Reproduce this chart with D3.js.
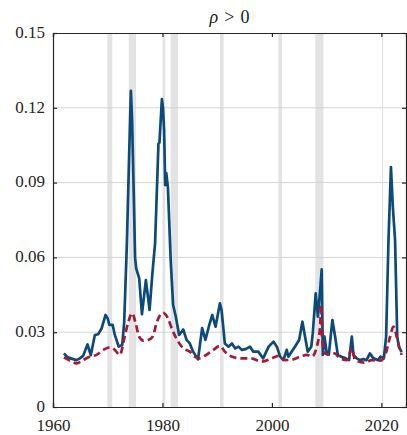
<!DOCTYPE html>
<html>
<head>
<meta charset="utf-8">
<script src="https://cdn.jsdelivr.net/npm/d3@7/dist/d3.min.js"></script>
<style>
  html, body { margin: 0; padding: 0; background: #fff; }
  svg { display: block; }
  .tick text { font-family: "Liberation Serif", "Times New Roman", serif; font-size: 17px; fill: #262626; }
</style>
</head>
<body>
<svg id="chart" width="407" height="435"></svg>
<script>
// Solid series: estimate for rho > 0
const solidDates = [1962.0, 1962.5, 1963.0, 1963.7, 1964.3, 1964.9, 1965.5, 1966.3, 1966.9, 1967.65,
  1968.25, 1968.9, 1969.6, 1970.0, 1970.3, 1970.9, 1971.3, 1972.0, 1972.65, 1973.0,
  1973.5, 1973.9, 1974.23, 1974.45, 1974.7, 1975.0, 1975.2, 1975.75, 1976.25, 1976.97,
  1977.65, 1978.1, 1978.65, 1979.27, 1979.45, 1979.9, 1980.1, 1980.3, 1980.5, 1980.7,
  1981.0, 1981.5, 1981.95, 1982.44, 1983.05, 1983.8, 1984.4, 1985.0, 1985.6, 1986.5,
  1987.25, 1987.85, 1988.5, 1989.1, 1989.7, 1990.5, 1990.8, 1991.4, 1992.06, 1992.7,
  1993.3, 1993.9, 1994.5, 1995.2, 1996.0, 1996.6, 1997.5, 1998.4, 1999.4, 2000.3,
  2000.9, 2001.5, 2002.1, 2002.7, 2003.0, 2003.6, 2004.2, 2004.97, 2005.57, 2006.06,
  2006.55, 2007.2, 2007.47, 2008.0, 2008.4, 2008.7, 2009.1, 2009.3, 2009.6, 2010.03,
  2010.4, 2011.05, 2011.55, 2012.04, 2012.6, 2013.5, 2014.1, 2014.6, 2014.9, 2015.5,
  2016.1, 2016.7, 2017.3, 2017.9, 2018.55, 2019.4, 2019.85, 2020.45, 2020.87, 2021.3,
  2021.75, 2022.1, 2022.5, 2022.9, 2023.2, 2023.7];
const solidValues = [0.0215, 0.0203, 0.0197, 0.0192, 0.0188, 0.0195, 0.0205, 0.0251, 0.0208, 0.0289,
  0.0292, 0.0316, 0.0369, 0.0355, 0.0329, 0.0329, 0.0289, 0.0242, 0.0249, 0.0337,
  0.0656, 0.1000, 0.1268, 0.1150, 0.0910, 0.0600, 0.0556, 0.0516, 0.0372, 0.0509,
  0.0389, 0.0520, 0.0656, 0.1057, 0.1060, 0.1235, 0.1200, 0.1110, 0.0890, 0.0938,
  0.0880, 0.0589, 0.0409, 0.0362, 0.0289, 0.0311, 0.0269, 0.0255, 0.0222, 0.0191,
  0.0316, 0.0269, 0.0325, 0.0369, 0.0322, 0.0416, 0.0389, 0.0255, 0.0242, 0.0255,
  0.0235, 0.0242, 0.0229, 0.0232, 0.0242, 0.0222, 0.0222, 0.0195, 0.0242, 0.0262,
  0.0242, 0.0202, 0.0188, 0.0229, 0.0202, 0.0222, 0.0242, 0.0269, 0.0342, 0.0282,
  0.0222, 0.0242, 0.0296, 0.0456, 0.0362, 0.0440, 0.0552, 0.0209, 0.0282, 0.0215,
  0.0210, 0.0349, 0.0282, 0.0209, 0.0202, 0.0195, 0.0188, 0.0282, 0.0209, 0.0195,
  0.0188, 0.0192, 0.0188, 0.0215, 0.0195, 0.0188, 0.0202, 0.0195, 0.0282, 0.0670,
  0.0962, 0.0800, 0.0670, 0.0282, 0.0242, 0.0220];

// Dashed series: smoother benchmark
const dashedDates = [1962.0, 1963.1, 1964.3, 1965.5, 1966.7, 1967.95, 1969.2, 1970.4, 1971.3, 1972.2,
  1973.1, 1973.7, 1974.47, 1975.1, 1975.74, 1976.5, 1977.4, 1978.2, 1979.0, 1980.1,
  1981.0, 1981.8, 1982.7, 1983.8, 1985.0, 1985.9, 1986.8, 1988.0, 1989.3, 1990.5,
  1991.4, 1992.5, 1994.5, 1996.2, 1998.15, 2000.0, 2001.2, 2002.4, 2003.9, 2005.5,
  2006.4, 2007.3, 2008.2, 2008.8, 2009.0, 2009.2, 2009.7, 2010.6, 2011.5, 2012.4,
  2013.7, 2014.6, 2015.2, 2017.0, 2018.25, 2019.8, 2020.7, 2021.6, 2022.2, 2022.8,
  2023.4, 2023.7];
const dashedValues = [0.0199, 0.0186, 0.0175, 0.0188, 0.0202, 0.0209, 0.0229, 0.0239, 0.0229, 0.0209,
  0.0282, 0.0336, 0.0376, 0.0336, 0.0282, 0.0266, 0.0269, 0.0282, 0.0342, 0.0378,
  0.0356, 0.0309, 0.0269, 0.0235, 0.0222, 0.0202, 0.0195, 0.0209, 0.0229, 0.0245,
  0.0222, 0.0204, 0.0195, 0.0195, 0.0182, 0.0195, 0.0205, 0.0188, 0.0191, 0.0205,
  0.0209, 0.0202, 0.0242, 0.0322, 0.0410, 0.0269, 0.0215, 0.0209, 0.0215, 0.0195,
  0.0188, 0.0235, 0.0188, 0.0178, 0.0188, 0.0186, 0.0209, 0.0282, 0.0322, 0.0282,
  0.0229, 0.0209];

// NBER recession periods (start, end) in decimal years
const recessionStarts = [1969.92, 1973.83, 1980.0, 1981.5, 1990.5, 2001.17, 2007.92, 2020.08];
const recessionEnds   = [1970.83, 1975.17, 1980.5, 1982.83, 1991.17, 2001.83, 2009.42, 2020.33];

const xTicks = [1960, 1980, 2000, 2020];
const yTicks = [0, 0.03, 0.06, 0.09, 0.12, 0.15];
const yTickLabels = ["0", "0.03", "0.06", "0.09", "0.12", "0.15"];

const svg = d3.select("#chart");
const plotLeft = 53, plotRight = 406, plotTop = 33, plotBottom = 407;

const x = d3.scaleLinear().domain([1960, 2024.5]).range([plotLeft, plotRight]);
const y = d3.scaleLinear().domain([0, 0.15]).range([plotBottom, plotTop]);

// recession shading
svg.append("g").selectAll("rect")
  .data(recessionStarts.map((s, i) => [s, recessionEnds[i]]))
  .join("rect")
  .attr("x", d => x(d[0]))
  .attr("width", d => x(d[1]) - x(d[0]))
  .attr("y", plotTop)
  .attr("height", plotBottom - plotTop)
  .attr("fill", "#e3e3e3");

// horizontal grid
svg.append("g").selectAll("line")
  .data(yTicks.slice(1, -1))
  .join("line")
  .attr("x1", plotLeft).attr("x2", plotRight)
  .attr("y1", d => y(d)).attr("y2", d => y(d))
  .attr("stroke", "#d4d4d4")
  .attr("stroke-width", 1);

svg.append("defs").append("clipPath").attr("id", "plotclip")
  .append("rect").attr("x", plotLeft).attr("y", plotTop)
  .attr("width", plotRight - plotLeft).attr("height", plotBottom - plotTop);

const solid = solidDates.map((d, i) => [d, solidValues[i]]);
const dashed = dashedDates.map((d, i) => [d, dashedValues[i]]);

const lineLinear = d3.line().x(d => x(d[0])).y(d => y(d[1]));
const lineSmooth = d3.line().x(d => x(d[0])).y(d => y(d[1])).curve(d3.curveMonotoneX);

const plot = svg.append("g").attr("clip-path", "url(#plotclip)");
plot.append("path")
  .datum(solid)
  .attr("d", lineLinear)
  .attr("fill", "none")
  .attr("stroke", "#0b4a7b")
  .attr("stroke-width", 2.7)
  .attr("stroke-linejoin", "round");

plot.append("path")
  .datum(dashed)
  .attr("d", lineSmooth)
  .attr("fill", "none")
  .attr("stroke", "#a71a37")
  .attr("stroke-width", 2.7)
  .attr("stroke-dasharray", "7,4");

// axes box with inward ticks
const axisColor = "#262626";
const gx = svg.append("g").attr("transform", `translate(0,${plotBottom})`)
  .call(d3.axisBottom(x).tickValues(xTicks).tickFormat(d3.format("d")).tickSize(-4).tickPadding(11.5));
const gxt = svg.append("g").attr("transform", `translate(0,${plotTop})`)
  .call(d3.axisTop(x).tickValues(xTicks).tickFormat("").tickSize(-4));
const gy = svg.append("g").attr("transform", `translate(${plotLeft},0)`)
  .call(d3.axisLeft(y).tickValues(yTicks).tickFormat((d, i) => yTickLabels[i]).tickSize(-4).tickPadding(8));
gy.selectAll(".tick text").attr("dy", "0.25em");
const gyr = svg.append("g").attr("transform", `translate(${plotRight},0)`)
  .call(d3.axisRight(y).tickValues(yTicks).tickFormat("").tickSize(-4));

[gx, gxt, gy, gyr].forEach(g => {
  g.select(".domain").attr("stroke", axisColor).attr("stroke-width", 1.2);
  g.selectAll(".tick line").attr("stroke", axisColor).attr("stroke-width", 1.2);
});

// title
const title = svg.append("text")
  .attr("x", (plotLeft + plotRight) / 2)
  .attr("y", 23)
  .attr("text-anchor", "middle")
  .attr("font-family", "Liberation Serif, Times New Roman, serif")
  .attr("font-size", 18)
  .attr("fill", "#1a1a1a");
title.append("tspan").attr("font-style", "italic").text("ρ");
title.append("tspan").attr("dx", 6).text(">");
title.append("tspan").attr("dx", 6).text("0");
</script>
</body>
</html>
